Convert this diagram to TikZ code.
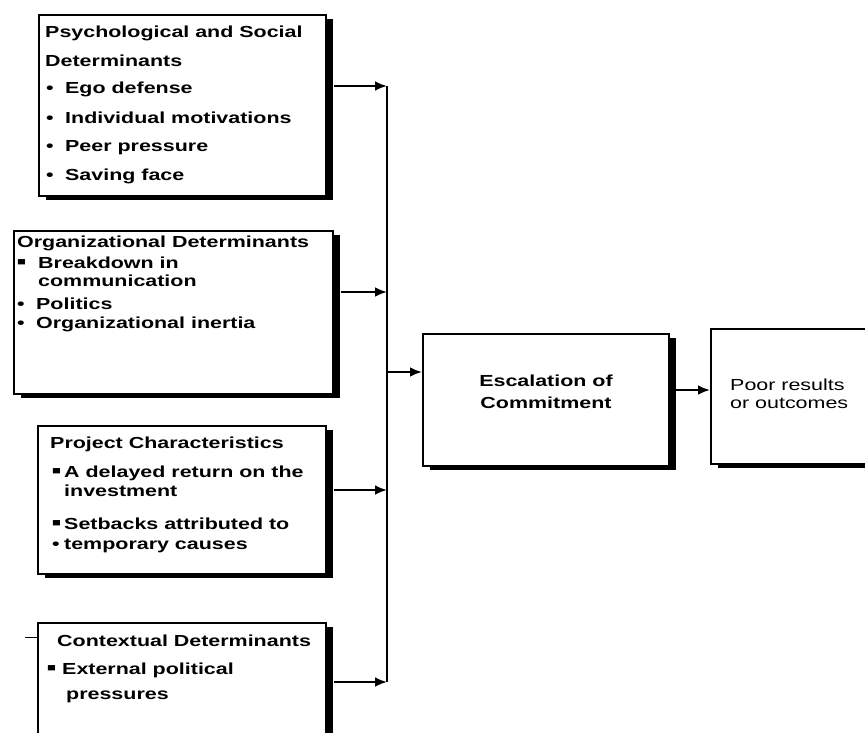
\documentclass[tikz,border=0pt]{standalone}
\usepackage{fontspec}
\setmainfont[FakeStretch=1.34]{Liberation Sans}
\usetikzlibrary{arrows.meta,shadows}

\tikzset{
  box/.style={draw=black, line width=2.2pt, fill=white, anchor=north west,
    inner sep=0pt,
    drop shadow={shadow xshift=7pt, shadow yshift=-4pt, fill=black, opacity=1}},
  txt/.style={anchor=base west, inner sep=0pt,
    font=\bfseries\fontsize{16}{18}\selectfont},
  ctxt/.style={anchor=base, inner sep=0pt,
    font=\bfseries\fontsize{16}{18}\selectfont},
  rtxt/.style={anchor=base west, inner sep=0pt,
    font=\fontsize{16}{18}\selectfont},
  link/.style={line width=2.8pt},
  arr/.style={line width=2.8pt, -{Latex[length=12pt,width=10pt]}},
}
\newcommand{\bul}[1]{\makebox[#1][l]{•}}
\newcommand{\sqb}[1]{\makebox[#1][l]{\raisebox{3pt}{\fontsize{11}{11}\selectfont■}}}

\begin{document}
\begin{tikzpicture}[x=1pt, y=-1pt]
  \useasboundingbox (0,0) rectangle (865,733);
  \clip (0,0) rectangle (865,733);
  \fill[white] (0,0) rectangle (865,733);

  % determinant boxes
  \node[box, minimum width=287pt, minimum height=181pt] (b1) at (38,14) {};
  \node[box, minimum width=319pt, minimum height=163pt] (b2) at (13,230) {};
  \node[box, minimum width=288pt, minimum height=148pt] (b3) at (37,425) {};
  \node[box, minimum width=288pt, minimum height=140pt] (b4) at (37,622) {};

  % outcome boxes
  \node[box, minimum width=246pt, minimum height=132pt] (esc) at (422,333) {};
  \node[box, minimum width=170pt, minimum height=135pt] (poor) at (710,328) {};

  % psychological and social
  \node[txt] (t11) at (45,38) {Psychological and Social};
  \node[txt] (t12) at (45,67) {Determinants};
  \node[txt] (t13) at (46,94) {\bul{19pt}Ego defense};
  \node[txt] (t14) at (46,124) {\bul{19pt}Individual motivations};
  \node[txt] (t15) at (46,152) {\bul{19pt}Peer pressure};
  \node[txt] (t16) at (46,180) {\bul{19pt}Saving face};

  % organizational
  \node[txt] (t21) at (17,247) {Organizational Determinants};
  \node[txt] (t22) at (17,268) {\sqb{21pt}Breakdown in};
  \node[txt] (t23) at (38,286) {communication};
  \node[txt] (t24) at (17,309) {\bul{19pt}Politics};
  \node[txt] (t25) at (17,328) {\bul{19pt}Organizational inertia};

  % project
  \node[txt] (t31) at (50,448) {Project Characteristics};
  \node[txt] (t32) at (52,477) {\sqb{12pt}A delayed return on the};
  \node[txt] (t33) at (64,496) {investment};
  \node[txt] (t34) at (52,529) {\sqb{12pt}Setbacks attributed to};
  \node[txt] (t35) at (52,549) {\bul{12pt}temporary causes};

  % contextual
  \node[txt] (t41) at (57,646) {Contextual Determinants};
  \node[txt] (t42) at (47,674) {\sqb{15pt}External political};
  \node[txt] (t43) at (66,699) {pressures};

  % outcomes
  \node[ctxt] (e1) at (546,386) {Escalation of};
  \node[ctxt] (e2) at (546,408) {Commitment};
  \node[rtxt] (p1) at (730,390) {Poor results};
  \node[rtxt] (p2) at (730,408) {or outcomes};

  % collecting bus
  \coordinate (j1) at (387,86);
  \coordinate (j2) at (387,292);
  \coordinate (j3) at (387,490);
  \coordinate (j4) at (387,682);
  \coordinate (jm) at (387,372);
  \coordinate (ep) at (675,390);
  \coordinate (tk) at (25,637);

  \draw[link] (j1) -- (j4);
  \draw[arr] ([xshift=7pt]b1.east |- j1) -- (j1);
  \draw[arr] ([xshift=7pt]b2.east |- j2) -- (j2);
  \draw[arr] ([xshift=7pt]b3.east |- j3) -- (j3);
  \draw[arr] ([xshift=7pt]b4.east |- j4) -- (j4);
  \draw[arr] (jm) -- (esc.west |- jm);
  \draw[arr] (ep) -- (poor.west |- ep);
  \draw[line width=0.8pt] (tk) -- (b4.west |- tk);
\end{tikzpicture}
\end{document}
